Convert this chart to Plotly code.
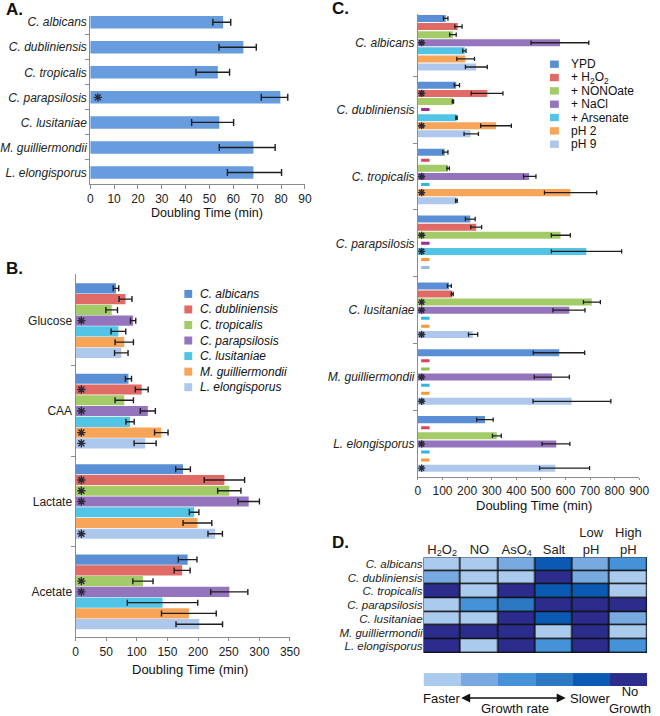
import plotly.graph_objects as go

W, H = 660, 716
def px(x): return x / W
def py(y): return 1 - y / H

FONT = "Liberation Sans, Arial, sans-serif"
TXT = "#222222"
AX = "#8c8c8c"

# ---------------- data ----------------
species = ["C. albicans", "C. dubliniensis", "C. tropicalis", "C. parapsilosis",
           "C. lusitaniae", "M. guilliermondii", "L. elongisporus"]

# Panel A: doubling time in YPD
A_doubling = [55.7, 64.2, 53.5, 79.7, 54.1, 68.4, 68.4]
A_err_minus = [4.3, 10.2, 9.2, 8.0, 11.6, 14.3, 10.9]
A_err_plus = [3.2, 5.4, 4.9, 3.1, 6.0, 9.1, 11.8]
A_star = [0, 0, 0, 1, 0, 0, 0]

# Panel B: carbon sources
media = ["Glucose", "CAA", "Lactate", "Acetate"]
B_glucose = [66, 81.6, 59, 94, 70, 79.5, 74.7]
B_caa = [86.4, 108, 79.5, 118, 89, 140, 113.6]
B_lactate = [175.5, 243, 251, 282.7, 193.6, 199, 228]
B_acetate = [183, 174, 110, 251, 142, 185, 202]
B_err_glucose = [4.5, 10.5, 9.5, 4.3, 12, 15, 11]
B_err_caa = [5, 10.5, 15, 12.3, 6.7, 11, 18]
B_err_lactate = [12, 33, 19, 17.5, 7.8, 23.5, 11.8]
B_err_acetate = [15.2, 13, 16.5, 30.3, 57.5, 44.7, 38]
B_star_glucose = [0, 0, 0, 1, 0, 0, 0]
B_star_caa = [0, 1, 0, 1, 0, 1, 1]
B_star_lactate = [0, 1, 1, 1, 0, 0, 1]
B_star_acetate = [0, 0, 1, 1, 0, 0, 0]

# Panel C: stress conditions (None = no growth)
conditions = ["YPD", "+ H<sub>2</sub>O<sub>2</sub>", "+ NONOate", "+ NaCl",
              "+ Arsenate", "pH 2", "pH 9"]
C_albicans = [113, 162, 142, 578, 190, 193, 236.7]
C_dubliniensis = [155.6, 282, 142, None, 157, 318, 214]
C_tropicalis = [109, None, 122, 452, None, 620, 157]
C_parapsilosis = [212.8, 236.7, 580, None, 685, None, None]
C_lusitaniae = [126, 139.6, 707, 615.7, None, None, 223]
C_guilliermondii = [574.5, None, None, 545, None, None, 625]
C_elongisporus = [272.6, None, 320.5, 562.5, None, None, 558.5]

C_err_minus = [
    [9.3, 12, 13, 118, 8, 35, 43.7],
    [8, 65.2, 2.4, None, 3, 63, 26.5],
    [8, None, 4, 22.5, None, 105.4, 4],
    [19.8, 21.7, 37.4, None, 142.4, None, None],
    [6.3, 4, 34, 66.7, None, None, 17.5],
    [105.5, None, None, 72, None, None, 157],
    [33.6, None, 17.5, 57.5, None, None, 63.8],
]
C_err_plus = [
    [9, 17.5, 13.6, 117, 5.5, 37, 45.3],
    [13.4, 63.7, 3, None, 2.6, 62, 32],
    [13, None, 5.7, 28, None, 107, 2.6],
    [19.9, 22.3, 40, None, 143.5, None, None],
    [9.6, 4, 35, 63.8, None, None, 20],
    [103.5, None, None, 70.7, None, None, 159.6],
    [33.4, None, 18.5, 55.5, None, None, 139.5],
]
C_star = [
    [0, 0, 0, 1, 0, 0, 0],
    [0, 1, 0, 0, 0, 1, 0],
    [0, 0, 0, 1, 0, 1, 0],
    [0, 0, 1, 0, 1, 0, 0],
    [0, 0, 1, 1, 0, 0, 1],
    [0, 0, 0, 1, 0, 0, 1],
    [0, 0, 0, 1, 0, 0, 1],
]

# Panel D: growth-rate heat map (0 = faster ... 4 = slower, 5 = no growth)
D_columns = ["H<sub>2</sub>O<sub>2</sub>", "NO", "AsO<sub>4</sub>", "Salt",
             "Low<br>pH", "High<br>pH"]
D_levels = [
    [0, 0, 1, 4, 1, 2],
    [1, 0, 0, 5, 1, 0],
    [5, 0, 5, 4, 4, 0],
    [0, 2, 3, 5, 5, 5],
    [0, 0, 5, 4, 5, 1],
    [5, 5, 5, 0, 5, 0],
    [5, 0, 5, 2, 5, 2],
]
D_scale_levels = [0, 1, 2, 3, 4, 5]

# ---------------- styles ----------------
palette = ["#5a8fd6", "#e06a66", "#a3cc68", "#9474bd", "#52c5e6", "#f8a55a", "#adc8ec"]
dash_palette = ["#5a8fd6", "#d9455a", "#8cc24a", "#9b2d8f", "#31b6e0", "#f59a3a", "#9bb8e6"]
heat_colors = ["#abcbee", "#78a9e0", "#4592d8", "#2d78c2", "#0a5ab3", "#2b2c8c"]
A_color = "#679cdf"
ERR = "#1e1e1e"
STAR = "#2a2a3a"

def star_marker(size):
    return dict(symbol="asterisk-open", size=size, color=STAR,
                line=dict(width=1.4, color=STAR))

fig = go.Figure()

# ---------------- Panel A ----------------
A_y = list(range(len(species)))
fig.add_trace(go.Bar(
    x=A_doubling, y=A_y, orientation="h", width=0.5, marker_color=A_color,
    marker_line_width=0,
    error_x=dict(type="data", symmetric=False, array=A_err_plus, arrayminus=A_err_minus,
                 color=ERR, thickness=1.4, width=3.5),
    xaxis="x", yaxis="y", showlegend=False, hoverinfo="x+y"))
fig.add_trace(go.Scatter(
    x=[3.2 for s in A_star if s], y=[A_y[i] for i, s in enumerate(A_star) if s],
    mode="markers", marker=star_marker(7),
    xaxis="x", yaxis="y", showlegend=False, hoverinfo="skip"))

# ---------------- Panel B ----------------
B_values = [B_glucose, B_caa, B_lactate, B_acetate]
B_errs = [B_err_glucose, B_err_caa, B_err_lactate, B_err_acetate]
B_stars = [B_star_glucose, B_star_caa, B_star_lactate, B_star_acetate]
B_step, B_width = 0.119, 0.112
for j, sp in enumerate(species):
    ys = [g + (j - 3) * B_step for g in range(len(media))]
    fig.add_trace(go.Bar(
        x=[B_values[g][j] for g in range(len(media))], y=ys, orientation="h",
        width=B_width, marker_color=palette[j], marker_line_width=0,
        error_x=dict(type="data", array=[B_errs[g][j] for g in range(len(media))],
                     color=ERR, thickness=1.4, width=3),
        xaxis="x2", yaxis="y2", showlegend=False, name=sp))
    sy = [ys[g] for g in range(len(media)) if B_stars[g][j]]
    if sy:
        fig.add_trace(go.Scatter(
            x=[9.5] * len(sy), y=sy, mode="markers", marker=star_marker(7),
            xaxis="x2", yaxis="y2", showlegend=False, hoverinfo="skip"))

# ---------------- Panel C ----------------
C_values = [C_albicans, C_dubliniensis, C_tropicalis, C_parapsilosis,
            C_lusitaniae, C_guilliermondii, C_elongisporus]
C_step, C_width = 0.121, 0.105
for k, cond in enumerate(conditions):
    ys = [s + (k - 3) * C_step for s in range(len(species))]
    xs = [C_values[s][k] for s in range(len(species))]
    fig.add_trace(go.Bar(
        x=xs, y=ys, orientation="h", width=C_width, marker_color=palette[k],
        marker_line_width=0,
        error_x=dict(type="data", symmetric=False,
                     array=[C_err_plus[s][k] for s in range(len(species))],
                     arrayminus=[C_err_minus[s][k] for s in range(len(species))],
                     color=ERR, thickness=1.3, width=2.2),
        xaxis="x3", yaxis="y3", showlegend=False, name=cond))
    sy = [ys[s] for s in range(len(species)) if C_star[s][k]]
    if sy:
        fig.add_trace(go.Scatter(
            x=[15] * len(sy), y=sy, mode="markers", marker=star_marker(6),
            xaxis="x3", yaxis="y3", showlegend=False, hoverinfo="skip"))
    ny = [ys[s] for s in range(len(species)) if xs[s] is None]
    if ny:
        fig.add_trace(go.Scatter(
            x=[30] * len(ny), y=ny, mode="markers",
            marker=dict(symbol="line-ew", size=6, line=dict(width=3, color=dash_palette[k])),
            xaxis="x3", yaxis="y3", showlegend=False, hoverinfo="skip"))

# ---------------- Panel D ----------------
cs = []
n = len(heat_colors)
for i, c in enumerate(heat_colors):
    cs.append([i / n, c])
    cs.append([(i + 1) / n, c])
fig.add_trace(go.Heatmap(
    z=D_levels, x=list(range(len(D_columns))), y=list(range(len(species))),
    colorscale=cs, zmin=-0.5, zmax=5.5, showscale=False, xgap=1.5, ygap=1.5,
    xaxis="x4", yaxis="y4", hoverinfo="z"))
fig.add_trace(go.Heatmap(
    z=[D_scale_levels], x=list(range(len(D_scale_levels))), y=[0],
    colorscale=cs, zmin=-0.5, zmax=5.5, showscale=False,
    xaxis="x5", yaxis="y5", hoverinfo="skip"))

# ---------------- axes ----------------
def xax(domain, anchor, rng, dtick, size=12, ticklen=4):
    return dict(domain=domain, anchor=anchor, range=rng, dtick=dtick, tick0=0,
                showline=True, linecolor=AX, linewidth=1, ticks="outside", ticklen=ticklen,
                tickcolor=AX, showgrid=False, zeroline=False,
                tickfont=dict(family=FONT, size=size, color=TXT))
def yax(domain, anchor, rng, tickvals, ticktext, minorvals, size=12):
    return dict(domain=domain, anchor=anchor, range=rng, tickmode="array",
                tickvals=tickvals, ticktext=ticktext, ticks="", showline=True,
                linecolor=AX, linewidth=1, showgrid=False, zeroline=False,
                tickfont=dict(family=FONT, size=size, color=TXT),
                minor=dict(tickmode="array", tickvals=minorvals, ticks="outside",
                           ticklen=4, tickcolor=AX, showgrid=False))

it = [f"<i>{s}</i>" for s in species]
fig.update_layout(
    xaxis=xax([px(89), px(308)], "y", [0, 90], 10),
    yaxis=yax([py(183), py(15)], "x", [6.45, -0.25], A_y, it,
              [i + 0.5 for i in range(6)]),
    xaxis2=xax([px(74), px(292.7)], "y2", [0, 350], 50, ticklen=3),
    yaxis2=yax([py(637), py(273)], "x2", [3.5, -0.52], list(range(4)), media,
               [0.5, 1.5, 2.5]),
    xaxis3=xax([px(423.3), px(649)], "y3", [0, 900], 100, size=12, ticklen=2),
    yaxis3=yax([py(477), py(13)], "x3", [6.5, -0.43], list(range(7)), it,
               [i + 0.5 for i in range(6)]),
    xaxis4=dict(domain=[px(429), px(657)], anchor="y4", range=[-0.5, 5.5], side="top",
                tickmode="array", tickvals=list(range(6)), ticktext=D_columns,
                showline=False, showgrid=False, zeroline=False, ticks="",
                tickfont=dict(family=FONT, size=13, color=TXT)),
    yaxis4=dict(domain=[py(653), py(557)], anchor="x4", range=[6.5, -0.5],
                tickmode="array", tickvals=list(range(7)), ticktext=it,
                showline=False, showgrid=False, zeroline=False, ticks="",
                tickfont=dict(family=FONT, size=11.5, color=TXT)),
    xaxis5=dict(domain=[px(429), px(657)], anchor="y5", range=[-0.5, 5.5],
                visible=False),
    yaxis5=dict(domain=[py(686), py(673)], anchor="x5", range=[-0.5, 0.5],
                visible=False),
)

# heat map frame (black grid)
shapes = [dict(type="rect", xref="x4", yref="y4", x0=-0.5, x1=5.5, y0=-0.5, y1=6.5,
               fillcolor="#111111", line=dict(color="#111111", width=1.5), layer="below")]

annotations = []
def label(text, x, y, size=12, xanchor="center", yanchor="middle", bold=False, italic=False):
    if italic:
        text = f"<i>{text}</i>"
    if bold:
        text = f"<b>{text}</b>"
    annotations.append(dict(text=text, x=px(x), y=py(y), xref="paper", yref="paper",
                            showarrow=False, xanchor=xanchor, yanchor=yanchor,
                            font=dict(family=FONT, size=size, color="#111111")))

# panel letters
label("A.", 1, 9, size=17, xanchor="left", bold=True)
label("B.", 1, 268, size=17, xanchor="left", bold=True)
label("C.", 334, 8, size=17, xanchor="left", bold=True)
label("D.", 334, 542, size=17, xanchor="left", bold=True)

# axis titles
label("Doubling Time (min)", 208, 212, size=12.5)
label("Doubling Time (min)", 191, 669, size=13)
label("Doubling Time (min)", 542, 505, size=13)

# legend B
for j, sp in enumerate(species):
    yc = 293.3 + j * 15.57
    shapes.append(dict(type="rect", xref="paper", yref="paper", x0=px(185), x1=px(193),
                       y0=py(yc + 4), y1=py(yc - 4), fillcolor=palette[j], line_width=0))
    label(sp, 199, yc, size=12, xanchor="left", italic=True)

# legend C
for k, cond in enumerate(conditions):
    yc = 63.3 + k * 13.35
    shapes.append(dict(type="rect", xref="paper", yref="paper", x0=px(558), x1=px(567),
                       y0=py(yc + 3.7), y1=py(yc - 3.7), fillcolor=palette[k], line_width=0))
    label(cond, 577, yc, size=12, xanchor="left")

# colour key labels
label("Faster", 448, 698, size=13)
label("Slower", 599, 698, size=13)
label("Growth rate", 522, 708, size=13)
label("No<br>Growth", 640, 700, size=13)
annotations.append(dict(x=px(574), y=py(698), xref="paper", yref="paper", ax=-106, ay=0,
                        axref="pixel", ayref="pixel", text="", showarrow=True,
                        arrowhead=2, arrowside="end+start", arrowsize=1.2,
                        arrowwidth=1.5, arrowcolor="#111111"))

fig.update_layout(
    width=W, height=H, autosize=False,
    margin=dict(l=0, r=0, t=0, b=0, pad=0),
    paper_bgcolor="white", plot_bgcolor="white",
    barmode="overlay", showlegend=False,
    font=dict(family=FONT, size=12, color=TXT),
    shapes=shapes, annotations=annotations,
)

fig.write_html("out.html", config={"displayModeBar": False},
               post_script="document.body.style.margin='0';document.body.style.overflow='hidden';")
